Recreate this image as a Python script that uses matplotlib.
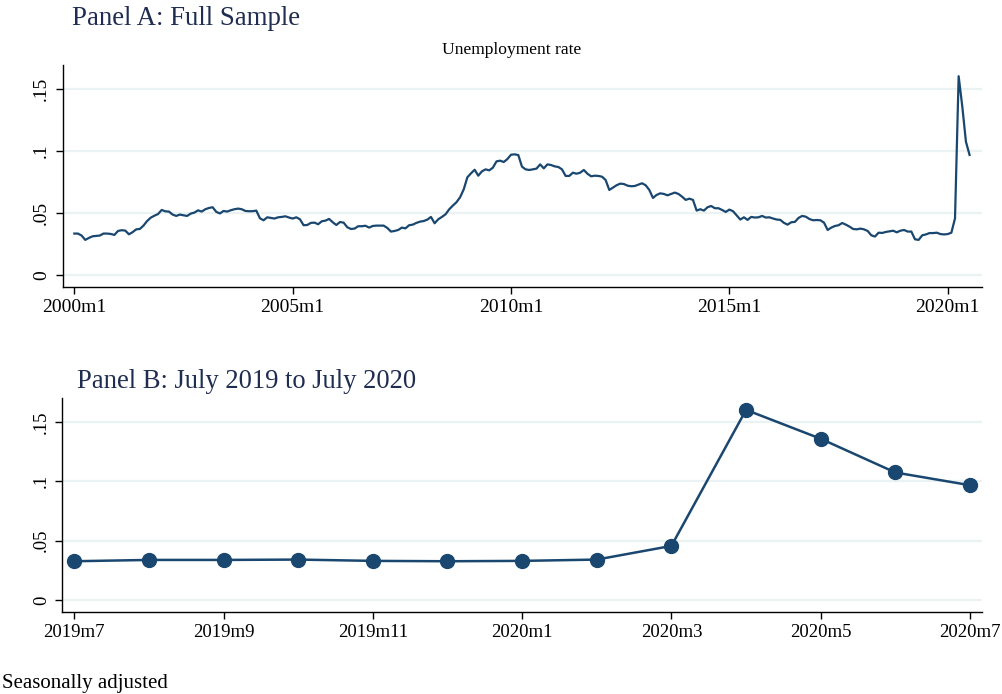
import matplotlib
matplotlib.use("Agg")
import matplotlib.pyplot as plt
import numpy as np

# Monthly unemployment rate, 2000m1 .. 2019m6
rate_2000_2019m6 = [
    0.0333, 0.0333, 0.0317, 0.0282, 0.0298, 0.0311, 0.0314, 0.0317, 0.0333, 0.0333, 0.0330, 0.0322,
    0.0354, 0.0360, 0.0357, 0.0327, 0.0344, 0.0367, 0.0370, 0.0397, 0.0434, 0.0461, 0.0477, 0.0490,
    0.0523, 0.0512, 0.0510, 0.0486, 0.0475, 0.0486, 0.0480, 0.0475, 0.0494, 0.0502, 0.0520, 0.0510,
    0.0529, 0.0539, 0.0545, 0.0508, 0.0495, 0.0515, 0.0510, 0.0521, 0.0529, 0.0534, 0.0529, 0.0515,
    0.0513, 0.0513, 0.0518, 0.0456, 0.0440, 0.0464, 0.0459, 0.0454, 0.0464, 0.0467, 0.0472, 0.0462,
    0.0454, 0.0464, 0.0448, 0.0400, 0.0402, 0.0419, 0.0421, 0.0408, 0.0432, 0.0437, 0.0451, 0.0424,
    0.0402, 0.0426, 0.0421, 0.0384, 0.0370, 0.0373, 0.0392, 0.0392, 0.0396, 0.0381, 0.0394, 0.0397,
    0.0397, 0.0397, 0.0378, 0.0349, 0.0354, 0.0362, 0.0381, 0.0375, 0.0400, 0.0405, 0.0419, 0.0429,
    0.0434, 0.0445, 0.0467, 0.0416, 0.0448, 0.0467, 0.0488, 0.0528, 0.0558, 0.0585, 0.0625, 0.0689,
    0.0786, 0.0818, 0.0847, 0.0799, 0.0834, 0.0850, 0.0842, 0.0863, 0.0914, 0.0920, 0.0909, 0.0933,
    0.0968, 0.0971, 0.0965, 0.0872, 0.0850, 0.0845, 0.0850, 0.0856, 0.0890, 0.0858, 0.0890, 0.0885,
    0.0874, 0.0869, 0.0850, 0.0797, 0.0797, 0.0823, 0.0815, 0.0823, 0.0845, 0.0815, 0.0794, 0.0799,
    0.0797, 0.0791, 0.0764, 0.0684, 0.0703, 0.0722, 0.0735, 0.0732, 0.0719, 0.0714, 0.0716, 0.0727,
    0.0738, 0.0722, 0.0684, 0.0620, 0.0644, 0.0657, 0.0652, 0.0641, 0.0652, 0.0663, 0.0652, 0.0630,
    0.0604, 0.0614, 0.0604, 0.0518, 0.0529, 0.0518, 0.0545, 0.0555, 0.0537, 0.0537, 0.0523, 0.0507,
    0.0526, 0.0513, 0.0480, 0.0446, 0.0464, 0.0443, 0.0467, 0.0462, 0.0464, 0.0475, 0.0462, 0.0464,
    0.0454, 0.0446, 0.0443, 0.0419, 0.0405, 0.0424, 0.0427, 0.0459, 0.0475, 0.0469, 0.0450, 0.0440,
    0.0442, 0.0440, 0.0421, 0.0362, 0.0381, 0.0394, 0.0400, 0.0418, 0.0405, 0.0389, 0.0370, 0.0367,
    0.0373, 0.0367, 0.0354, 0.0319, 0.0309, 0.0340, 0.0338, 0.0346, 0.0351, 0.0356, 0.0343, 0.0356,
    0.0362, 0.0349, 0.0349, 0.0287, 0.0282, 0.0319,
]

# July 2019 .. July 2020
rate_recent = [0.0326, 0.0337, 0.0337, 0.0340, 0.0329, 0.0326, 0.0329,
               0.0340, 0.0455, 0.1600, 0.1357, 0.1073, 0.0966]

full_tick_labels = ["2000m1", "2005m1", "2010m1", "2015m1", "2020m1"]
recent_tick_labels = ["2019m7", "2019m9", "2019m11", "2020m1", "2020m3", "2020m5", "2020m7"]
y_ticks = [0, 0.05, 0.10, 0.15]
y_tick_labels = ["0", ".05", ".1", ".15"]

rate_full = np.array(rate_2000_2019m6 + rate_recent)
months_full = np.arange(len(rate_full))
months_recent = np.arange(len(rate_recent))

LINE = "#1a476f"
GRID = "#eaf2f3"
TITLE = "#1f2d50"

plt.rcParams["font.family"] = ["Liberation Serif", "DejaVu Serif"]

fig = plt.figure(figsize=(10.03, 6.94), dpi=100)
fig.patch.set_facecolor("white")

axA = fig.add_axes([0.0625, 0.5865, 0.9165, 0.3198])
axB = fig.add_axes([0.0621, 0.1182, 0.9169, 0.3083])


def style(ax):
    for side in ("top", "right"):
        ax.spines[side].set_visible(False)
    for side in ("left", "bottom"):
        ax.spines[side].set_linewidth(1.0)
        ax.spines[side].set_color("black")
    ax.set_yticks(y_ticks)
    ax.set_yticklabels(y_tick_labels, rotation=90, va="center")
    ax.yaxis.grid(True, color=GRID, linewidth=1.6)
    ax.set_axisbelow(True)
    ax.tick_params(axis="both", direction="out", length=5, width=1.0, color="black")


# Panel A: full sample
style(axA)
axA.plot(months_full, rate_full, color=LINE, linewidth=1.6)
axA.set_xlim(-3.2, 249.4)
axA.set_ylim(-0.0097, 0.169)
axA.set_xticks([0, 60, 120, 180, 240])
axA.set_xticklabels(full_tick_labels)
axA.tick_params(axis="both", labelsize=14, pad=4)
fig.text(0.072, 0.973, "Panel A: Full Sample", fontsize=19.4, color=TITLE,
         ha="left", va="center")
fig.text(0.5105, 0.928, "Unemployment rate", fontsize=12.6, color="black",
         ha="center", va="center")

# Panel B: July 2019 to July 2020
style(axB)
axB.plot(months_recent, rate_recent, color=LINE, linewidth=1.8,
         marker="o", markersize=10, markerfacecolor=LINE, markeredgecolor=LINE)
axB.set_xlim(-0.16, 12.16)
axB.set_ylim(-0.0101, 0.170)
axB.set_xticks(np.arange(0, 13, 2))
axB.set_xticklabels(recent_tick_labels)
axB.tick_params(axis="both", labelsize=13.5, pad=4)
fig.text(0.077, 0.451, "Panel B: July 2019 to July 2020", fontsize=19.2, color=TITLE,
         ha="left", va="center")

fig.text(0.002, 0.015, "Seasonally adjusted", fontsize=15, color="black",
         ha="left", va="center")

fig.savefig("out.png", dpi=100, facecolor="white")
